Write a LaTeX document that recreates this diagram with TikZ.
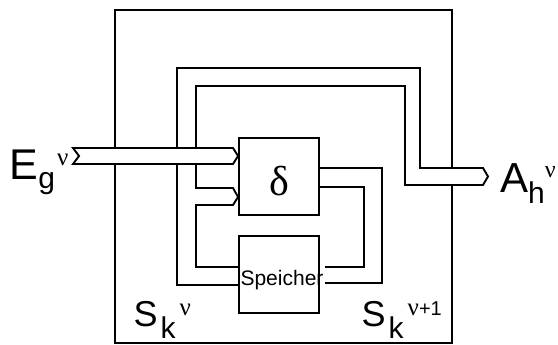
\documentclass[tikz,border=0pt]{standalone}
\usepackage{fontspec}
\setmainfont{Liberation Sans}
\newfontfamily\greekfont{Liberation Serif}
\usetikzlibrary{positioning, calc}

\newcommand{\fsz}[1]{\fontsize{#1}{#1}\selectfont}

\tikzstyle{block} = [rectangle, draw=black, line width=1.9pt, minimum width=80pt,
                     minimum height=77pt, inner sep=0pt]
\tikzstyle{frame} = [rectangle, minimum width=337pt, minimum height=333pt, inner sep=0pt]
\tikzstyle{wire}  = [line width=1.9pt, line join=miter]
\tikzstyle{bus}   = [wire, fill=white]
\tikzstyle{sig}   = [inner sep=0pt, anchor=base west]

\begin{document}
\begin{tikzpicture}[x=1pt, y=-1pt]
  \useasboundingbox (0,0) rectangle (558,345);

  % System and blocks
  \node (sys)     [frame] at (283.5,176.5) {};
  \node (delta)   [block, text height=39pt, text depth=0pt] at (279,176.5) {\greekfont\fsz{42}δ};
  \node (mem)     [block] at (279,274.5) {};
  \node (memtext) [inner sep=1.5pt, anchor=base] at (282,285) {\fsz{21}Speicher};

  % Signals
  \node (ein)  [sig] at (9.6,180)   {\fsz{43}E\raisebox{-8.6pt}{\fsz{30}g}\hspace{2pt}\raisebox{14pt}{\greekfont\fsz{25}ν}};
  \node (aus)  [sig] at (500,193)   {\fsz{42}A\raisebox{-11pt}{\fsz{30}h}\raisebox{15pt}{\greekfont\fsz{24}ν}};
  \node (sold) [sig] at (133.5,326) {\fsz{36}S\hspace{3pt}\raisebox{-13pt}{\fsz{30}k}\hspace{4pt}\raisebox{10pt}{\greekfont\fsz{25}ν}};
  \node (snew) [sig] at (361.5,326) {\fsz{36}S\hspace{3pt}\raisebox{-13pt}{\fsz{30}k}\hspace{4pt}\raisebox{10pt}{{\greekfont\fsz{25}ν}\fsz{20}+1}};

  \coordinate (intail) at (73,156);
  \coordinate (outtip) at (488,176.5);

  % System frame, open where the buses pass
  \draw[wire] (sys.west |- 0,148) -- (sys.north west) -- (sys.north east) -- (sys.east |- 0,168);
  \draw[wire] (sys.east |- 0,185) -- (sys.south east) -- (sys.south west) -- (sys.west |- 0,164);

  % Speicher -> A
  \draw[wire] (mem.west |- 0,285) -- (177,285) -- (177,68) -- (420,68) -- (420,168)
              -- (483,168) -- (outtip) -- (483,185) -- (405,185) -- (405,86) -- (196,86) -- (196,148);
  % Speicher -> delta
  \draw[wire] (196,164) -- (196,188) -- (233,188) -- (delta.west |- 0,197) -- (233,205)
              -- (196,205) -- (196,267) -- (mem.west |- 0,267);
  % delta -> Speicher
  \draw[wire] (delta.east |- 0,168) -- (382,168) -- (382,283) -- (memtext.east |- 0,283);
  \draw[wire] (delta.east |- 0,187) -- (364,187) -- (364,267) -- (memtext.east |- 0,267);
  % E -> delta
  \draw[bus] (intail |- 0,148) -- (233,148) -- (delta.west |- 0,156) -- (233,164)
             -- (intail |- 0,164) -- ($(intail)+(6,0)$) -- cycle;

\end{tikzpicture}
\end{document}
